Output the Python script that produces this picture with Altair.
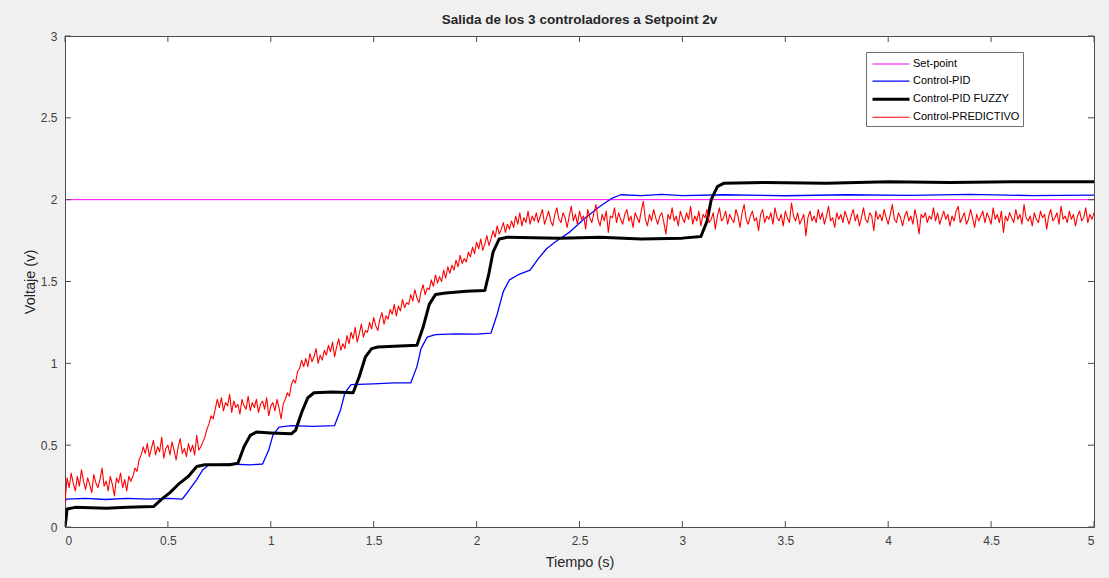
import altair as alt
import pandas as pd

# ---------------- data ----------------
series_names = ["Set-point", "Control-PID", "Control-PID FUZZY", "Control-PREDICTIVO"]
series_colors = ["#ff00ff", "#0000ff", "#000000", "#ff0000"]
series_widths = [1.0, 1.3, 3.0, 1.1]

setpoint_t = [0.0, 5.0]
setpoint_v = [2.0, 2.0]

pid_t = [0.0, 0.005, 0.1, 0.2, 0.3, 0.4, 0.5, 0.57, 0.60, 0.64, 0.67, 0.70, 0.8, 0.9, 0.96,
         0.99, 1.01, 1.04, 1.1, 1.2, 1.31, 1.34, 1.36, 1.39, 1.5, 1.6, 1.68, 1.71, 1.73,
         1.76, 1.80, 1.9, 2.0, 2.07, 2.10, 2.13, 2.16, 2.20, 2.26, 2.30, 2.34, 2.38, 2.45,
         2.52, 2.60, 2.66, 2.70, 2.8, 2.9, 3.0, 3.2, 3.5, 3.8, 4.1, 4.4, 4.7, 5.0]
pid_v = [0.15, 0.17, 0.175, 0.168, 0.175, 0.17, 0.175, 0.17, 0.22, 0.29, 0.35, 0.38, 0.385,
         0.38, 0.385, 0.47, 0.56, 0.61, 0.62, 0.615, 0.62, 0.72, 0.82, 0.87, 0.875, 0.88,
         0.88, 0.98, 1.09, 1.16, 1.175, 1.18, 1.178, 1.185, 1.30, 1.44, 1.51, 1.54, 1.57,
         1.64, 1.70, 1.74, 1.80, 1.88, 1.96, 2.01, 2.03, 2.025, 2.032, 2.025, 2.03, 2.024,
         2.03, 2.026, 2.032, 2.025, 2.028]

fuzzy_t = [0.0, 0.005, 0.01, 0.05, 0.2, 0.3, 0.43, 0.47, 0.51, 0.55, 0.60, 0.64, 0.68, 0.8,
           0.84, 0.87, 0.90, 0.93, 1.0, 1.1, 1.12, 1.15, 1.18, 1.21, 1.3, 1.40, 1.43, 1.46,
           1.49, 1.52, 1.6, 1.71, 1.74, 1.77, 1.80, 1.85, 1.95, 2.04, 2.06, 2.08, 2.11, 2.15,
           2.4, 2.6, 2.8, 3.0, 3.09, 3.12, 3.14, 3.17, 3.20, 3.4, 3.7, 4.0, 4.3, 4.6, 5.0]
fuzzy_v = [0.0, 0.05, 0.11, 0.12, 0.115, 0.12, 0.125, 0.17, 0.21, 0.26, 0.31, 0.37, 0.38,
           0.38, 0.39, 0.49, 0.56, 0.58, 0.575, 0.57, 0.59, 0.70, 0.79, 0.82, 0.825, 0.82,
           0.92, 1.04, 1.09, 1.10, 1.105, 1.11, 1.22, 1.36, 1.42, 1.43, 1.44, 1.445, 1.55,
           1.68, 1.76, 1.77, 1.765, 1.77, 1.76, 1.765, 1.775, 1.87, 2.00, 2.08, 2.10, 2.105,
           2.10, 2.11, 2.105, 2.11, 2.11]

# predictive controller, sampled every 0.01 s from t = 0 to 5
pred_dt = 0.01
pred_v = [
    # 0.00 - 0.32
    0.15, 0.30, 0.24, 0.33, 0.27, 0.22, 0.31, 0.25, 0.35, 0.28, 0.23, 0.30, 0.26, 0.21, 0.32,
    0.27, 0.24, 0.29, 0.36, 0.25, 0.28, 0.22, 0.31, 0.26, 0.19, 0.30, 0.27, 0.33, 0.24, 0.29,
    0.22, 0.31, 0.28,
    # 0.33 - 0.38
    0.31, 0.36, 0.34, 0.41, 0.44, 0.49,
    # 0.39 - 0.67
    0.45, 0.51, 0.43, 0.48, 0.53, 0.44, 0.49, 0.46, 0.55, 0.42, 0.48, 0.50, 0.44, 0.52, 0.47,
    0.41, 0.49, 0.54, 0.45, 0.48, 0.43, 0.51, 0.46, 0.50, 0.44, 0.56, 0.47, 0.49, 0.52,
    # 0.68 - 0.74
    0.55, 0.60, 0.63, 0.68, 0.66, 0.72, 0.78,
    # 0.75 - 1.06
    0.73, 0.79, 0.71, 0.76, 0.74, 0.81, 0.70, 0.77, 0.73, 0.75,
    0.69, 0.78, 0.74, 0.72, 0.80, 0.71, 0.76, 0.73, 0.78, 0.70,
    0.75, 0.77, 0.72, 0.79, 0.68, 0.74, 0.76, 0.71, 0.78, 0.73,
    0.66, 0.75,
    # 1.07 - 1.16
    0.78, 0.82, 0.80, 0.87, 0.90, 0.88, 0.95, 0.97, 1.02, 0.98,
    # 1.17 - 2.28
    1.03, 0.98, 1.06, 1.01, 1.04, 1.09, 1.00, 1.05, 1.02, 1.08,
    1.05, 1.11, 1.07, 1.13, 1.04, 1.10, 1.15, 1.08, 1.12, 1.09,
    1.17, 1.12, 1.19, 1.15, 1.22, 1.13, 1.18, 1.24, 1.16, 1.20,
    1.19, 1.25, 1.21, 1.28, 1.23, 1.20, 1.27, 1.31, 1.24, 1.29,
    1.27, 1.33, 1.30, 1.36, 1.29, 1.35, 1.32, 1.39, 1.34, 1.37,
    1.36, 1.42, 1.38, 1.45, 1.40, 1.37, 1.44, 1.48, 1.42, 1.46,
    1.45, 1.51, 1.47, 1.54, 1.49, 1.53, 1.50, 1.57, 1.52, 1.59,
    1.55, 1.60, 1.57, 1.63, 1.59, 1.66, 1.61, 1.64, 1.62, 1.68,
    1.65, 1.71, 1.67, 1.74, 1.70, 1.76, 1.69, 1.73, 1.78, 1.72,
    1.76, 1.81, 1.77, 1.84, 1.79, 1.82, 1.86, 1.80, 1.85, 1.82,
    1.87, 1.83, 1.90, 1.85, 1.92, 1.84, 1.89, 1.86, 1.93, 1.85,
    1.90, 1.87,
    # 2.29 - 5.00
    1.92, 1.86, 1.90, 1.94, 1.85, 1.89, 1.93, 1.87, 1.84, 1.91,
    1.95, 1.88, 1.86, 1.92, 1.89, 1.83, 1.90, 1.96, 1.87, 1.91,
    1.85, 1.93, 1.88, 1.90, 1.82, 1.94, 1.89, 1.86, 1.92, 1.97,
    1.88, 1.84, 1.91, 1.87, 1.93, 1.80, 1.90, 1.89, 1.95, 1.86,
    1.92, 1.88, 1.85, 1.91, 1.94, 1.87, 1.90, 1.83, 1.92, 1.89,
    1.86, 1.93, 1.99, 1.88, 1.84, 1.91, 1.87, 1.94, 1.89, 1.85,
    1.90, 1.92, 1.86, 1.79, 1.91, 1.88, 1.95, 1.87, 1.90, 1.84,
    1.93, 1.89, 1.86, 1.92, 1.88, 1.96, 1.85, 1.90, 1.87, 1.93,
    1.84, 1.91, 1.89, 1.94, 1.86, 1.88, 1.92, 1.82, 1.90, 1.95,
    1.87, 1.89, 1.93, 1.85, 1.91, 1.88, 1.86, 1.94, 1.90, 1.83,
    1.92, 1.97, 1.88, 1.85, 1.90, 1.93, 1.87, 1.89, 1.81, 1.91,
    1.94, 1.86, 1.90, 1.88, 1.92, 1.85, 1.95, 1.89, 1.87, 1.91,
    1.84, 1.93, 1.89, 1.86, 1.98, 1.90, 1.87, 1.92, 1.85, 1.88,
    1.91, 1.78, 1.89, 1.93, 1.87, 1.90, 1.86, 1.94, 1.88, 1.92,
    1.85, 1.90, 1.96, 1.87, 1.89, 1.83, 1.92, 1.88, 1.91, 1.86,
    1.93, 1.89, 1.85, 1.90, 1.94, 1.87, 1.91, 1.84, 1.89, 1.95,
    1.88, 1.86, 1.92, 1.90, 1.81, 1.93, 1.88, 1.91, 1.87, 1.94,
    1.89, 1.85, 1.91, 1.97, 1.88, 1.86, 1.92, 1.89, 1.84, 1.90,
    1.93, 1.87, 1.90, 1.85, 1.94, 1.88, 1.79, 1.91, 1.89, 1.92,
    1.86, 1.90, 1.88, 1.95, 1.87, 1.92, 1.85, 1.89, 1.93, 1.88,
    1.91, 1.84, 1.90, 1.87, 1.93, 1.96, 1.86, 1.89, 1.92, 1.85,
    1.88, 1.94, 1.89, 1.83, 1.91, 1.87, 1.90, 1.93, 1.86, 1.92,
    1.89, 1.85, 1.95, 1.88, 1.91, 1.86, 1.93, 1.80, 1.90, 1.87,
    1.92, 1.89, 1.86, 1.94, 1.88, 1.91, 1.85, 1.97, 1.89, 1.87,
    1.90, 1.84, 1.92, 1.88, 1.86, 1.93, 1.89, 1.91, 1.82, 1.90,
    1.94, 1.87, 1.89, 1.92, 1.85, 1.96, 1.88, 1.90, 1.86, 1.93,
    1.88, 1.91, 1.84, 1.90, 1.93, 1.87, 1.89, 1.95, 1.86, 1.91,
    1.88, 1.92,
]
pred_t = [round(i * pred_dt, 2) for i in range(len(pred_v))]

x_ticks = [0, 0.5, 1, 1.5, 2, 2.5, 3, 3.5, 4, 4.5, 5]
y_ticks = [0, 0.5, 1, 1.5, 2, 2.5, 3]

# ---------------- build tables ----------------
rows = []
for name, ts, vs in [(series_names[0], setpoint_t, setpoint_v),
                     (series_names[1], pid_t, pid_v),
                     (series_names[2], fuzzy_t, fuzzy_v),
                     (series_names[3], pred_t, pred_v)]:
    for i, (t, v) in enumerate(zip(ts, vs)):
        rows.append({"serie": name, "t": t, "v": v, "i": i})
df = pd.DataFrame(rows)

W, H = 1029, 491
TICK = 6
AXIS_COL = "#4d4d4d"
FONT = "Liberation Sans"

xscale = alt.Scale(domain=[0, 5], nice=False, zero=False)
yscale = alt.Scale(domain=[0, 3], nice=False, zero=False)

legend = alt.Legend(
    title=None, orient="none", legendX=801, legendY=16,
    symbolType="M-0.765,0H3.59", symbolSize=289,
    labelFontSize=11, labelFont=FONT, labelColor="#000000",
    strokeColor="#6e6e6e", fillColor="#ffffff",
    padding=3, rowPadding=2.6, labelOffset=24, offset=0,
)

lines = alt.Chart(df).mark_line(clip=True, strokeJoin="round").encode(
    x=alt.X("t:Q", scale=xscale, axis=alt.Axis(
        values=x_ticks, format="~g", title="Tiempo (s)", tickSize=0,
        grid=False, domain=False, labelPadding=8, titlePadding=9)),
    y=alt.Y("v:Q", scale=yscale, axis=alt.Axis(
        values=y_ticks, format="~g", title="Voltaje (v)", tickSize=0,
        grid=False, domain=False, labelPadding=8, titlePadding=3)),
    color=alt.Color("serie:N", scale=alt.Scale(domain=series_names, range=series_colors),
                    legend=legend),
    strokeWidth=alt.StrokeWidth("serie:N",
                                scale=alt.Scale(type="ordinal", domain=series_names,
                                                range=series_widths),
                                legend=legend),
    detail="serie:N",
    order="i:Q",
)

xt = pd.DataFrame({"t": x_ticks})
yt = pd.DataFrame({"v": y_ticks})
tick_style = dict(color=AXIS_COL, strokeWidth=1)
xt_bottom = alt.Chart(xt).mark_rule(**tick_style).encode(
    x=alt.X("t:Q", scale=xscale), y=alt.value(H), y2=alt.value(H - TICK))
xt_top = alt.Chart(xt).mark_rule(**tick_style).encode(
    x=alt.X("t:Q", scale=xscale), y=alt.value(0), y2=alt.value(TICK))
yt_left = alt.Chart(yt).mark_rule(**tick_style).encode(
    y=alt.Y("v:Q", scale=yscale), x=alt.value(0), x2=alt.value(TICK))
yt_right = alt.Chart(yt).mark_rule(**tick_style).encode(
    y=alt.Y("v:Q", scale=yscale), x=alt.value(W), x2=alt.value(W - TICK))

chart = alt.layer(lines, xt_bottom, xt_top, yt_left, yt_right).properties(
    width=W, height=H,
    padding={"left": 65, "top": 36, "right": 15, "bottom": 51},
    autosize=alt.AutoSizeParams(type="none"),
    background="#f0f0f0",
    title=alt.TitleParams("Salida de los 3 controladores a Setpoint 2v", font=FONT,
                          fontSize=13.5, fontWeight="bold", color="#262626",
                          anchor="middle", offset=4),
).configure_view(
    fill="#ffffff", stroke="#4d4d4d", strokeWidth=1,
).configure_axis(
    labelFont=FONT, titleFont=FONT, labelFontSize=12, titleFontSize=14.5,
    labelColor="#404040", titleColor="#262626", titleFontWeight="normal",
)

chart.save("out.html", embed_options={"renderer": "svg", "actions": False})
